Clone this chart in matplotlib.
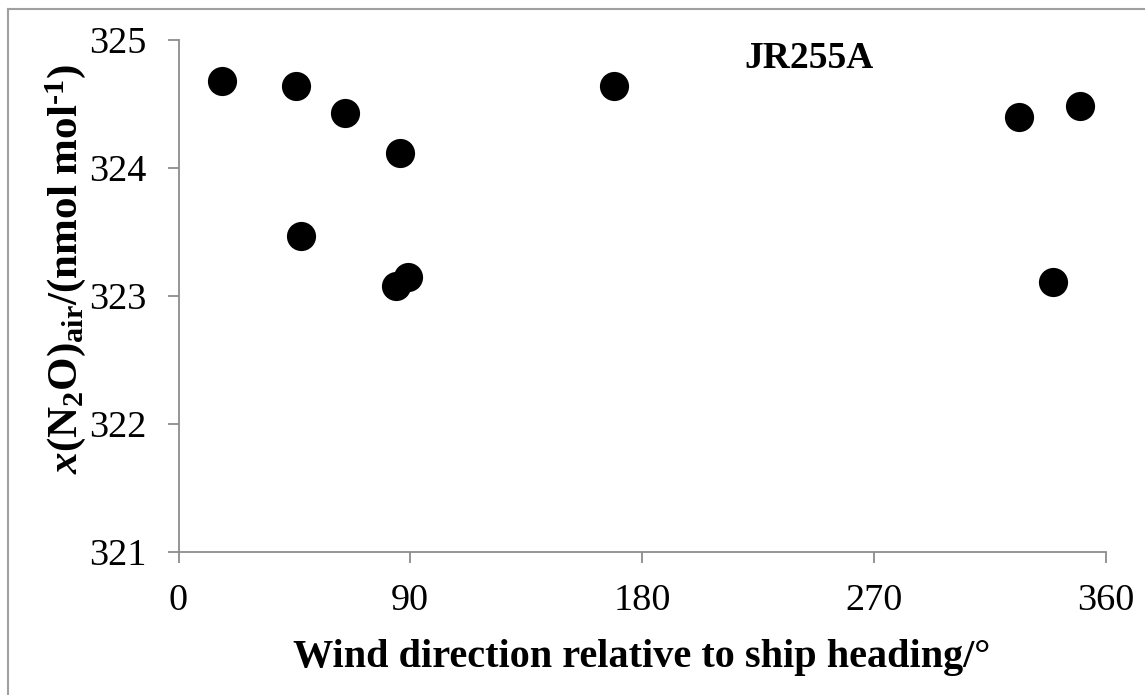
import matplotlib
matplotlib.use("Agg")
import matplotlib.pyplot as plt
from matplotlib.lines import Line2D

# Data
wind_dir = [17.0, 45.5, 64.7, 85.9, 47.4, 84.4, 89.2, 169.0, 326.6, 350.2, 339.5]
xn2o = [324.68, 324.64, 324.43, 324.12, 323.47, 323.08, 323.15, 324.64, 324.40, 324.48, 323.11]
x_ticks = [0, 90, 180, 270, 360]
y_ticks = [321, 322, 323, 324, 325]
label_text = "JR255A"

plt.rcParams['font.family'] = ['Liberation Serif', 'DejaVu Serif']
plt.rcParams['mathtext.fontset'] = 'custom'
plt.rcParams['mathtext.rm'] = 'Liberation Serif:bold'
plt.rcParams['mathtext.bf'] = 'Liberation Serif:bold'
plt.rcParams['mathtext.it'] = 'Liberation Serif:bold:italic'

W, H = 1145, 695
fig = plt.figure(figsize=(W / 100, H / 100), dpi=100)
ax = fig.add_axes([178.5 / W, 1 - 551.5 / H, (1105.5 - 178.5) / W, (551.5 - 40) / H])

ax.plot(wind_dir, xn2o, 'o', color='black', markersize=21, markeredgewidth=0, clip_on=False)

ax.set_xlim(0, 360)
ax.set_ylim(321, 325)
ax.set_xticks(x_ticks)
ax.set_yticks(y_ticks)
ax.set_xticklabels([str(v) for v in x_ticks])
ax.set_yticklabels([str(v) for v in y_ticks])

spine_col = '#8c8c8c'
for s in ['top', 'right']:
    ax.spines[s].set_visible(False)
for s in ['left', 'bottom']:
    ax.spines[s].set_color(spine_col)
    ax.spines[s].set_linewidth(1.3)
ax.tick_params(axis='both', direction='out', length=8, width=1.3, color=spine_col,
               labelsize=27.5, pad=15, labelcolor='black')

fig.text(809 / W, 1 - 68.3 / H, label_text, ha='center', va='baseline',
         fontsize=27, fontweight='bold')

fig.text(641.7 / W, 1 - 667 / H, "Wind direction relative to ship heading/°",
         ha='center', va='baseline', fontsize=29, fontweight='bold')

fig.text(66 / W, 1 - 269 / H,
         r'$\mathit{x}$(N$_2$O)$_{\mathrm{air}}$/(nmol mol$^{\text{-1}}$)',
         ha='center', va='center', rotation=90, fontsize=31, fontweight='bold')

# outer frame (only top and left edges visible)
frame_col = '#a0a0a0'
fig.add_artist(Line2D([8 / W, 1.0], [1 - 9.3 / H, 1 - 9.3 / H], transform=fig.transFigure,
                      color=frame_col, linewidth=1.5))
fig.add_artist(Line2D([8 / W, 8 / W], [0.0, 1 - 9.3 / H], transform=fig.transFigure,
                      color=frame_col, linewidth=1.5))

fig.savefig('out.png', dpi=100)
